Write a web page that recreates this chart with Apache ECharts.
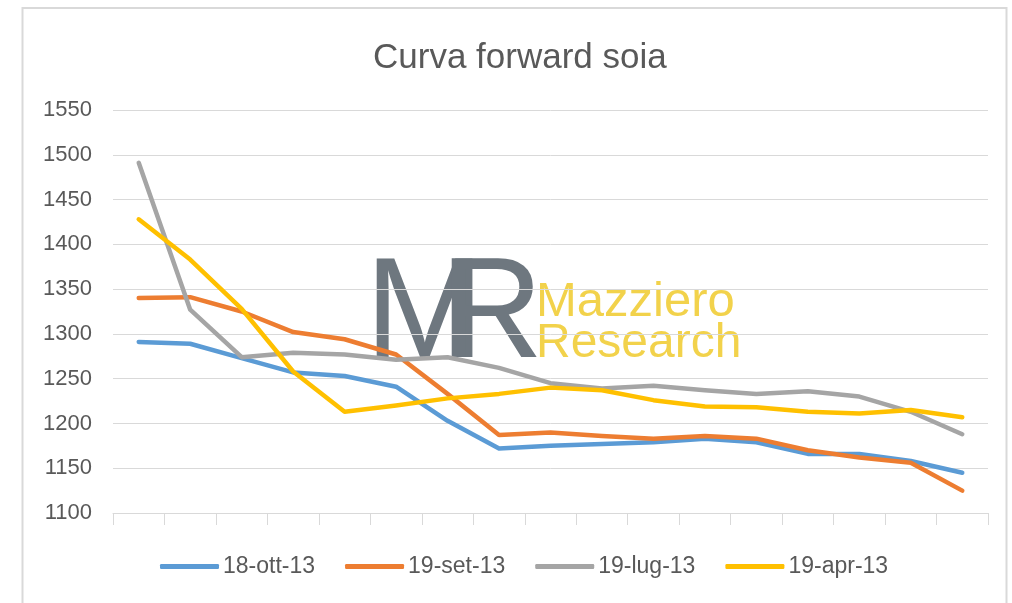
<!DOCTYPE html>
<html>
<head>
<meta charset="utf-8">
<script src="https://cdn.jsdelivr.net/npm/echarts@6/dist/echarts.min.js"></script>
<style>
  html, body { margin: 0; padding: 0; background: #ffffff; }
  #chart { width: 1012px; height: 603px; }
</style>
</head>
<body>
<div id="chart"></div>
<script>
var titleText = 'Curva forward soia';
var categories = ['1','2','3','4','5','6','7','8','9','10','11','12','13','14','15','16','17'];
var seriesNames = ['18-ott-13', '19-set-13', '19-lug-13', '19-apr-13'];
var ott13 = [1291, 1289, 1273, 1257, 1253, 1241, 1203, 1172, 1175, 1177, 1179, 1183, 1179, 1166, 1166, 1158, 1145];
var set13 = [1340, 1341, 1325, 1302, 1294, 1277, 1233, 1187, 1190, 1186, 1183, 1186, 1183, 1170, 1162, 1156, 1125];
var lug13 = [1491, 1327, 1274, 1279, 1277, 1271, 1274, 1262, 1245, 1239, 1242, 1237, 1233, 1236, 1230, 1213, 1188];
var apr13 = [1428, 1383, 1328, 1258, 1213, 1220, 1228, 1233, 1240, 1237, 1226, 1219, 1218, 1213, 1211, 1215, 1207];
var yMin = 1100, yMax = 1550, yStep = 50;

var colors = ['#5B9BD5', '#ED7D31', '#A5A5A5', '#FFC000'];
var seriesData = [ott13, set13, lug13, apr13];
var font = '"Liberation Sans", Arial, sans-serif';
var logoFont = '"Liberation Sans Narrow", "Liberation Sans", Arial, sans-serif';

var chart = echarts.init(document.getElementById('chart'));
chart.setOption({
  animation: false,
  backgroundColor: '#ffffff',
  color: colors,
  title: {
    text: titleText,
    left: 368,
    top: 36,
    textStyle: { fontFamily: font, fontSize: 35, fontWeight: 'normal', color: '#595959' }
  },
  legend: {
    bottom: 20,
    left: 155,
    icon: 'roundRect',
    itemWidth: 59,
    itemHeight: 5,
    itemGap: 30,
    textStyle: { fontFamily: font, fontSize: 23, color: '#595959', padding: [0, 0, 0, -1] },
    data: seriesNames
  },
  grid: { left: 113, right: 24, top: 110, bottom: 90 },
  xAxis: {
    type: 'category',
    data: categories,
    boundaryGap: true,
    axisLine: { lineStyle: { color: '#d9d9d9', width: 1 } },
    axisTick: { show: true, interval: 0, length: 12, lineStyle: { color: '#d9d9d9' } },
    axisLabel: { show: false },
    splitLine: { show: false }
  },
  yAxis: {
    type: 'value',
    min: yMin,
    max: yMax,
    interval: yStep,
    axisLine: { show: false },
    axisTick: { show: false },
    axisLabel: {
      margin: 21, fontFamily: font, fontSize: 22, color: '#595959',
      formatter: function (v) { return String(v); }
    },
    splitLine: { lineStyle: { color: '#d9d9d9', width: 1 } }
  },
  graphic: [
    {
      type: 'rect', z: -10, silent: true,
      shape: { x: 22.5, y: 8, width: 984, height: 700 },
      style: { fill: 'none', stroke: '#d9d9d9', lineWidth: 2 }
    },
    {
      type: 'text', z: -1, silent: true, left: 365, top: 246,
      style: { text: 'M', font: 'normal 143px ' + logoFont, fill: '#6E777F' }
    },
    {
      type: 'text', z: -1, silent: true, left: 440, top: 246,
      style: { text: 'R', font: 'normal 143px ' + logoFont, fill: '#6E777F' }
    },
    {
      type: 'text', z: -1, silent: true, left: 536, top: 278,
      style: { text: 'Mazziero', font: 'normal 49px ' + font, fill: '#F2D24B' }
    },
    {
      type: 'text', z: -1, silent: true, left: 536, top: 320,
      style: { text: 'Research', font: 'normal 48px ' + font, fill: '#F2D24B' }
    }
  ],
  series: seriesNames.map(function (name, i) {
    return {
      name: name,
      type: 'line',
      data: seriesData[i],
      showSymbol: false,
      symbol: 'none',
      lineStyle: { width: 4.5, color: colors[i], cap: 'round', join: 'round' },
      itemStyle: { color: colors[i] },
      z: 2
    };
  })
});
</script>
</body>
</html>
